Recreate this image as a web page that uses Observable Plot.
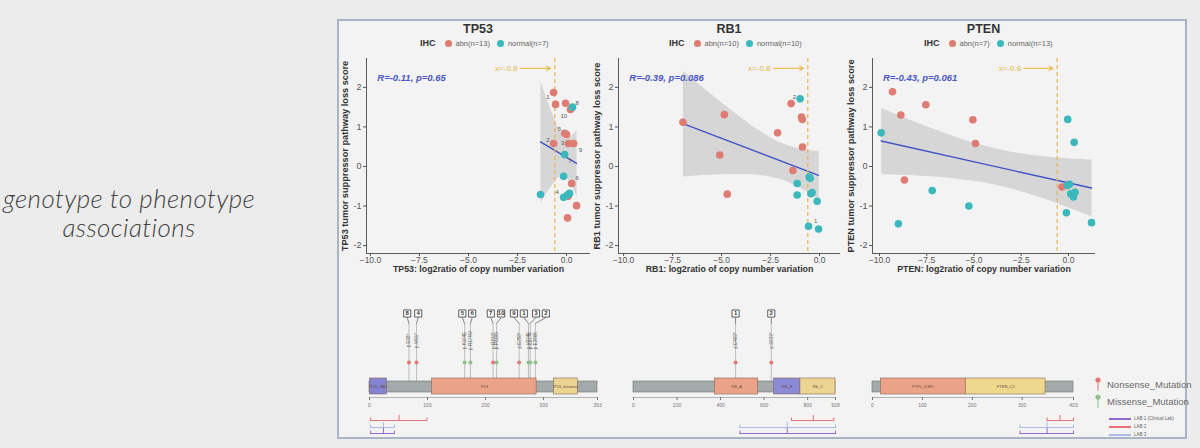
<!DOCTYPE html>
<html><head><meta charset="utf-8">
<script src="https://cdn.jsdelivr.net/npm/d3@7"></script>
<script src="https://cdn.jsdelivr.net/npm/@observablehq/plot@0.6"></script>
<style>
html,body{margin:0;padding:0;width:1200px;height:448px;overflow:hidden;background:#ececec;font-family:"Liberation Sans",Arial,sans-serif;}
#slideText{position:absolute;left:-2px;top:184px;width:262px;text-align:center;font-family:Lato,"Open Sans",sans-serif;font-style:italic;font-weight:300;font-size:26px;letter-spacing:0.4px;line-height:29px;color:#444;}
#frame{position:absolute;left:337px;top:19px;width:846px;height:416px;border:2px solid #a9b4c4;background:#f3f3f3;}
.title{font-weight:bold;font-size:12.5px;color:#333;text-align:center;width:120px;}
.legend{font-size:7.5px;color:#666;display:flex;align-items:center;white-space:nowrap;}
.legend b{font-size:9px;color:#333;margin-right:9px;}
.legend i{display:inline-block;width:7px;height:7px;border-radius:50%;margin-right:4px;}
.legend span{margin-right:7px;}
.mleg{font-size:9.5px;color:#6a6a6a;display:flex;align-items:center;white-space:nowrap;}
.lab{font-size:4.5px;color:#666;display:flex;align-items:center;white-space:nowrap;}
.lab i{display:inline-block;width:22px;height:2px;margin-right:3px;}
</style></head>
<body>
<div id="slideText">genotype to phenotype<br>associations</div>
<div id="frame"></div>
<script>
// ---------------- data ----------------
const genes = ["TP53", "RB1", "PTEN"];
const ihcAbnLabels = ["abn(n=13)", "abn(n=10)", "abn(n=7)"];
const ihcNorLabels = ["normal(n=7)", "normal(n=10)", "normal(n=13)"];
const corrText = ["R=-0.11, p=0.65", "R=-0.39, p=0.086", "R=-0.43, p=0.061"];
const cutoffValue = -0.6;
const cutoffLabel = "x=-0.8";
const xTicks = [-10, -7.5, -5, -2.5, 0];
const yTicks = [-2, -1, 0, 1, 2];

// TP53 scatter
const tp53AbnX = [-0.66, -0.56, -0.05, 0.2, -0.1, 0.0, -0.66, 0.1, 0.36, 0.26, 0.51, 0.05, 0.08];
const tp53AbnY = [1.87, 1.57, 1.6, 1.44, 0.84, 0.81, 0.58, 0.58, 0.58, -0.43, -0.99, -1.3, -0.75];
const tp53NorX = [0.3, -0.1, -0.15, -0.15, 0.15, -1.33, 0.05];
const tp53NorY = [1.5, 0.3, -0.25, -0.78, -0.68, -0.71, -0.72];
const tp53PtLab = ["1", "8", "10", "5", "2", "3", "9", "7", "6", "4"];
const tp53PtLabX = [-0.95, 0.54, -0.14, -0.37, -0.95, -0.2, 0.71, 0.17, 0.54, -0.48];
const tp53PtLabY = [1.76, 1.61, 1.27, 0.95, 0.68, 0.59, 0.41, 0.13, -0.3, -0.65];

// RB1 scatter
const rb1AbnX = [-6.97, -4.86, -5.09, -4.71, -2.14, -1.45, -0.92, -0.88, -0.87, -1.36];
const rb1AbnY = [1.12, 1.31, 0.29, -0.70, 0.85, 1.59, 1.25, 1.19, 0.49, -0.10];
const rb1NorX = [-0.99, -1.14, -1.14, -0.48, -0.44, -0.38, -0.12, -0.56, -0.05, -0.52];
const rb1NorY = [1.71, -0.43, -0.72, -0.30, -0.69, -0.66, -0.88, -1.51, -1.58, -0.27];
const rb1PtLab = ["2", "1"];
const rb1PtLabX = [-1.28, -0.2];
const rb1PtLabY = [1.76, -1.38];

// PTEN scatter
const ptenAbnX = [-9.31, -8.87, -7.55, -5.06, -4.92, -8.68, -0.34];
const ptenAbnY = [1.89, 1.30, 1.56, 1.18, 0.58, -0.34, -0.52];
const ptenNorX = [-9.91, -9.0, -7.21, -5.27, -0.04, 0.30, 1.22, -0.11, 0.05, 0.12, 0.26, 0.35, -0.05];
const ptenNorY = [0.85, -1.45, -0.61, -1.0, 1.19, 0.61, -1.42, -1.17, -0.45, -0.69, -0.77, -0.65, -0.48];

// lollipop: protein lengths, domains, mutations, ticks, lab ranges
const protLen = [393, 928, 403];
const domTP53Name = ["P53_TAD", "P53", "P53_tetramer"];
const domTP53Start = [1, 108, 318];
const domTP53End = [30, 288, 359];
const domRB1Name = ["RB_A", "RB_B", "Rb_C"];
const domRB1Start = [374, 645, 767];
const domRB1End = [573, 767, 928];
const domPTENName = ["PTPc_DSPc", "PTEN_C2"];
const domPTENStart = [17, 187];
const domPTENEnd = [187, 347];
const domColors = {P53_TAD:"#8384d4", P53:"#eaa386", P53_tetramer:"#ecd592", RB_A:"#eaa386", RB_B:"#8a8ad6", Rb_C:"#ecd592", PTPc_DSPc:"#eaa386", PTEN_C2:"#eed88e"};

const mutTP53Id = ["8", "4", "5", "6", "7", "10", "9", "1", "3", "2"];
const mutTP53Pos = [68, 81, 164, 174, 213, 219, 258, 274, 277, 286];
const mutTP53Box = [65, 84, 160, 177, 209, 227, 249, 266, 287, 304];
const mutTP53Type = ["Nonsense", "Nonsense", "Missense", "Missense", "Nonsense", "Missense", "Nonsense", "Missense", "Missense", "Missense"];
const mutTP53Name = ["p.E68*", "p.W91*", "p.K164E", "p.R174W", "p.R213*", "p.P219S", "p.E258*", "p.V274F", "p.C277F", "p.E286K"];
const mutRB1Id = ["1", "2"];
const mutRB1Pos = [469, 633];
const mutRB1Type = ["Nonsense", "Nonsense"];
const mutRB1Name = ["p.E469*", "p.S633*"];
const ticksTP53 = [0, 100, 200, 300, 393];
const ticksRB1 = [0, 200, 400, 600, 800, 928];
const ticksPTEN = [0, 100, 200, 300, 403];

const labNames = ["LAB 1 (Clinical Lab)", "LAB 2", "LAB 3"];
const labColors = ["#8e6cc8", "#e57373", "#a9bde6"];
// ranges per gene: [lab index, start, end, mid]
const rangesTP53 = [[1, 2, 99, 51], [0, 2, 43, 24], [2, 2, 43, 24]];
const rangesRB1 = [[1, 726, 920, 826], [2, 489, 928, 706], [0, 489, 928, 706]];
const rangesPTEN = [[1, 350, 403, 376], [2, 296, 403, 350], [0, 296, 403, 350]];

// ---------------- helpers ----------------
const RED = "#de7b73", TEAL = "#3bb8bb";
const FONT = "Liberation Sans, Arial, sans-serif";
const pts = (xs, ys) => xs.map((x, i) => ({x, y: ys[i]}));
const lbls = (t, xs, ys) => t.map((s, i) => ({t: s, x: xs[i], y: ys[i]}));

function place(node, left, top) {
  node.style.position = "absolute";
  node.style.left = left + "px";
  node.style.top = top + "px";
  document.body.appendChild(node);
}
function div(cls, html, left, top) {
  const d = document.createElement("div");
  d.className = cls; d.innerHTML = html;
  place(d, left, top);
  return d;
}

const Y_DOMAIN = [-2.2, 2.73];
const panels = [
  {L: 366, R: 590, xDomain: [-10.2, 1.22], abn: pts(tp53AbnX, tp53AbnY), nor: pts(tp53NorX, tp53NorY), lab: lbls(tp53PtLab, tp53PtLabX, tp53PtLabY), legLeft: 420},
  {L: 618, R: 840, xDomain: [-10.26, 1.07], abn: pts(rb1AbnX, rb1AbnY), nor: pts(rb1NorX, rb1NorY), lab: lbls(rb1PtLab, rb1PtLabX, rb1PtLabY), legLeft: 669},
  {L: 872, R: 1095, xDomain: [-10.37, 1.43], abn: pts(ptenAbnX, ptenAbnY), nor: pts(ptenNorX, ptenNorY), lab: [], legLeft: 924}
];

panels.forEach((p, i) => {
  const gene = genes[i];
  const all = p.abn.concat(p.nor);
  const mL = 34, mR = 6, mT = 4, mB = 28;
  const yMid = (Y_DOMAIN[0] + Y_DOMAIN[1]) / 2;
  const plot = Plot.plot({
    width: mL + (p.R - p.L) + mR, height: mT + 195 + mB,
    marginLeft: mL, marginRight: mR, marginTop: mT, marginBottom: mB,
    x: {domain: p.xDomain}, y: {domain: Y_DOMAIN},
    style: {background: "transparent", fontFamily: FONT, overflow: "visible"},
    marks: [
      Plot.linearRegressionY(all, {x: "x", y: "y", stroke: "#4253c6", strokeWidth: 1.4, fill: "#8c8c8c", fillOpacity: 0.28, ci: 0.95}),
      Plot.ruleX([cutoffValue], {stroke: "#e8b552", strokeDasharray: "4,3", strokeWidth: 1.2}),
      Plot.dot(p.abn, {x: "x", y: "y", r: 3.8, fill: RED}),
      Plot.dot(p.nor, {x: "x", y: "y", r: 3.8, fill: TEAL}),
      Plot.text(p.lab, {x: "x", y: "y", text: "t", fontSize: 6, fill: "#555"}),
      Plot.text([{x: p.xDomain[0] + 0.55, y: 2.25, t: corrText[i]}], {x: "x", y: "y", text: "t", textAnchor: "start", fontSize: 9.5, fontWeight: "bold", fontStyle: "italic", fill: "#4b56c4"}),
      Plot.arrow([{x1: cutoffValue - 1.75, x2: cutoffValue - 0.22, y: 2.48}], {x1: "x1", x2: "x2", y1: "y", y2: "y", stroke: "#e8c05a", strokeWidth: 1.3, headLength: 5}),
      Plot.text([{x: cutoffValue - 1.9, y: 2.48, t: cutoffLabel}], {x: "x", y: "y", text: "t", textAnchor: "end", fontSize: 8, fill: "#e6b84a"}),
      Plot.ruleX([p.xDomain[0]], {stroke: "#333", strokeWidth: 0.8}),
      Plot.ruleY([Y_DOMAIN[0]], {stroke: "#333", strokeWidth: 0.8}),
      Plot.axisX({ticks: xTicks, tickFormat: d3.format(".1f"), tickSize: 3, tickPadding: 0, fontSize: 8.5, color: "#555", label: null}),
      Plot.axisY({ticks: yTicks, tickFormat: d => String(d), tickSize: 3, tickPadding: 2, fontSize: 9, color: "#555", label: null}),
      Plot.text([`${gene}: log2ratio of copy number variation`], {frameAnchor: "bottom", dy: 18, text: d => d, fontSize: 8.8, fontWeight: "bold", fill: "#333"}),
      Plot.text([{x: p.xDomain[0], y: yMid, t: `${gene} tumor suppressor pathway loss score`}], {x: "x", y: "y", text: "t", dx: -21, rotate: -90, fontSize: 9.2, fontWeight: "bold", fill: "#333"})
    ]
  });
  place(plot, p.L - mL, 58 - mT);
  const cx = (p.L + p.R) / 2;
  div("title", gene, cx - 60, 22);
  div("legend", `<b>IHC</b><i style="background:${RED}"></i><span>${ihcAbnLabels[i]}</span><i style="background:${TEAL}"></i><span>${ihcNorLabels[i]}</span>`, p.legLeft, 38);
});

// ---------------- lollipop plots ----------------
function mkMuts(ids, pos, box, types, names) {
  return ids.map((id, i) => ({id, pos: pos[i], box: box[i], type: types[i], name: names[i]}));
}
function mkDoms(n, s, e) { return n.map((name, i) => ({name, s: s[i], e: e[i]})); }
function mkRanges(r) { return r.map(([lab, s, e, m]) => ({lab, s, e, m})); }

const LAB_Y = [133, 120, 127];
const lolli = [
  {len: protLen[0], left: 360, xr: [9, 237], w: 250, doms: mkDoms(domTP53Name, domTP53Start, domTP53End), muts: mkMuts(mutTP53Id, mutTP53Pos, mutTP53Box, mutTP53Type, mutTP53Name), ticks: ticksTP53, ranges: mkRanges(rangesTP53)},
  {len: protLen[1], left: 625, xr: [8, 210], w: 220, doms: mkDoms(domRB1Name, domRB1Start, domRB1End), muts: mkMuts(mutRB1Id, mutRB1Pos, mutRB1Pos, mutRB1Type, mutRB1Name), ticks: ticksRB1, ranges: mkRanges(rangesRB1)},
  {len: protLen[2], left: 865, xr: [7, 208], w: 215, doms: mkDoms(domPTENName, domPTENStart, domPTENEnd), muts: [], ticks: ticksPTEN, ranges: mkRanges(rangesPTEN)}
];

lolli.forEach(g => {
  const ends = g.ranges.flatMap(r => [{x: r.s, lab: r.lab}, {x: r.e, lab: r.lab}]);
  const plot = Plot.plot({
    width: g.w, height: 140, marginTop: 0, marginBottom: 43, marginLeft: 0, marginRight: 0,
    x: {domain: [0, g.len], range: g.xr},
    y: {domain: [0, 97], range: [0, 97], axis: null},
    style: {background: "transparent", fontFamily: FONT, overflow: "visible"},
    marks: [
      Plot.ruleX(g.muts, {x: "pos", y1: 23, y2: 81, stroke: "#a8a8a8", strokeWidth: 0.7}),
      Plot.link(g.muts, {x1: "box", y1: 17, x2: "pos", y2: 23, stroke: "#555", strokeWidth: 0.7}),
      Plot.text(g.muts, {x: "pos", y: 40, text: "name", rotate: -90, fontSize: 4.5, fill: "#666"}),
      Plot.dot(g.muts, {x: "pos", y: 62, r: 2, fill: d => d.type === "Nonsense" ? "#e07a70" : "#8fbf8a"}),
      Plot.rect([{s: 0, e: g.len}], {x1: "s", x2: "e", y1: 81, y2: 92, fill: "#a4a9a9", stroke: "#6f7474", strokeWidth: 0.6}),
      Plot.rect(g.doms, {x1: "s", x2: "e", y1: 78, y2: 94, fill: d => domColors[d.name], stroke: "#8a6a5a", strokeWidth: 0.6}),
      Plot.text(g.doms, {x: d => (d.s + d.e) / 2, y: 86, text: "name", fontSize: 4, fill: "#6a4a3a"}),
      Plot.ruleY([97], {x1: 0, x2: g.len, stroke: "#888", strokeWidth: 0.6}),
      Plot.axisX({ticks: g.ticks, tickFormat: d => String(d), tickSize: 3, tickPadding: 3, fontSize: 5, color: "#777", label: null}),
      Plot.dot(g.muts, {x: "box", y: 13, symbol: "square", r: 4, fill: "#fff", stroke: "#333", strokeWidth: 0.8}),
      Plot.text(g.muts, {x: "box", y: 13, text: "id", fontSize: 6, fontWeight: "bold", fill: "#333"}),
      Plot.ruleY(g.ranges, {y: d => LAB_Y[d.lab], x1: "s", x2: "e", stroke: d => labColors[d.lab], strokeWidth: 1}),
      Plot.ruleX(ends, {x: "x", y1: d => LAB_Y[d.lab] - 2.5, y2: d => LAB_Y[d.lab] + 1, stroke: d => labColors[d.lab], strokeWidth: 1}),
      Plot.ruleX(g.ranges, {x: "m", y1: d => LAB_Y[d.lab] - 5, y2: d => LAB_Y[d.lab], stroke: d => labColors[d.lab], strokeWidth: 1})
    ]
  });
  place(plot, g.left, 300);
});

// mutation type legend
div("mleg", `<svg width="10" height="16"><line x1="5" y1="4" x2="5" y2="15" stroke="#e07a70" stroke-width="1"/><circle cx="5" cy="4" r="2.6" fill="#e07a70"/></svg><span style="margin-left:4px">Nonsense_Mutation</span>`, 1093, 376);
div("mleg", `<svg width="10" height="16"><line x1="5" y1="4" x2="5" y2="15" stroke="#8fbf8a" stroke-width="1"/><circle cx="5" cy="4" r="2.6" fill="#8fbf8a"/></svg><span style="margin-left:4px">Missense_Mutation</span>`, 1093, 393);
labNames.forEach((n, i) => {
  div("lab", `<i style="background:${labColors[i]}"></i>${n}`, 1109, 416 + i * 8);
});
</script>
</body></html>
